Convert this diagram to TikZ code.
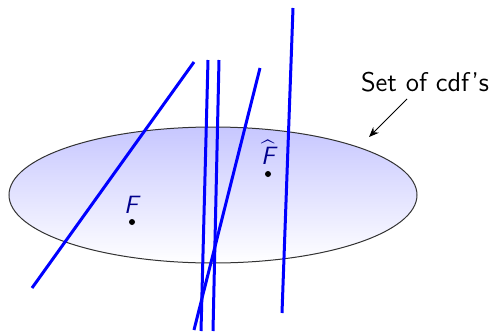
\documentclass[tikz,border=0pt]{standalone}
\usepackage{amsmath}
\usetikzlibrary{arrows.meta,shapes.geometric}
\begin{document}
\begin{tikzpicture}[x=0.5pt,y=-0.5pt,
  bline/.style={blue,line width=1.5pt},
  lbl/.style={text=blue!55!black,font=\fontsize{12.5}{14}\selectfont\sffamily\itshape,inner sep=0pt},
  pt/.style={circle,fill=black,inner sep=0pt,minimum size=3pt}]
\useasboundingbox (0,0) rectangle (492,332);
\node[draw=black!80,line width=0.5pt,ellipse,minimum width=204pt,minimum height=68pt,inner sep=0pt,top color=blue!22,bottom color=white] (set) at (213,195) {};
\node[pt] (F) at (132,222) {};
\node[lbl] (Fl) at (131,205) {F};
\node[pt] (Fh) at (268,174) {};
\node[lbl] (Fhl) at (268,152) {$\widehat{\mbox{\sffamily\itshape F}}$};
\node[font=\fontsize{13.5}{16}\selectfont\sffamily,inner sep=0pt] (txt) at (425,82) {Set of cdf's};
\coordinate (as) at (407,99);
\coordinate (ae) at (369,137);
\draw[-{Stealth[length=5pt,width=4pt]},line width=0.5pt] (as) -- (ae);
\coordinate (a1) at (194,62); \coordinate (b1) at (32,288);
\coordinate (a2) at (208,60); \coordinate (b2) at (201,331);
\coordinate (a3) at (219,60); \coordinate (b3) at (213,331);
\coordinate (a4) at (260,68); \coordinate (b4) at (194,330);
\coordinate (a5) at (293,8); \coordinate (b5) at (282,313);
\foreach \i in {1,...,5} \draw[bline] (a\i) -- (b\i);
\end{tikzpicture}
\end{document}
